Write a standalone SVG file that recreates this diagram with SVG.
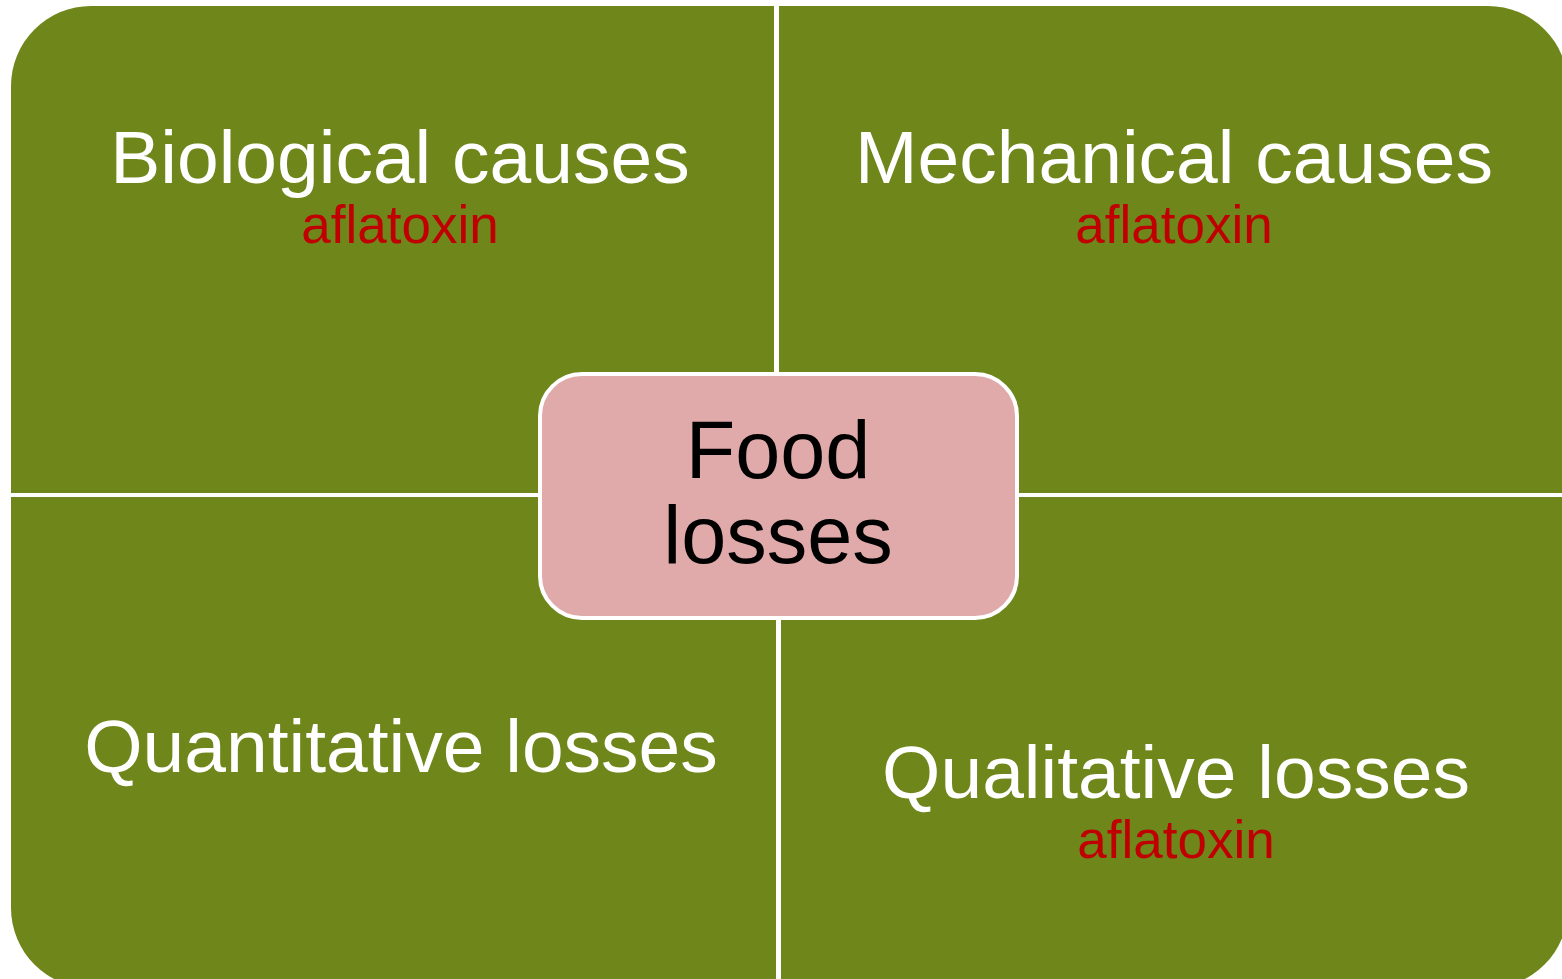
<svg xmlns="http://www.w3.org/2000/svg" width="1562" height="979" viewBox="0 0 1562 979">
<style>
.quad{fill:#6F861A;}
.t{font-family:"Liberation Sans",Arial,sans-serif;text-anchor:middle;}
.title{font-size:75px;fill:#FFFFFF;}
.sub{font-size:53px;fill:#C00000;}
.center{font-size:81px;fill:#000000;}
.hub{fill:#E0A9AA;stroke:#FFFFFF;stroke-width:4;}
</style>
<rect width="1562" height="979" fill="#FFFFFF"/>
<g id="biological-causes">
<path class="quad" d="M11,493 L11,86 A80,80 0 0 1 91,6 L774,6 L774,493 Z"/>
<text class="t title" x="400" y="183">Biological causes</text>
<text class="t sub" x="400" y="243">aflatoxin</text>
</g>
<g id="mechanical-causes">
<path class="quad" d="M779,6 L1488,6 A80,80 0 0 1 1568,86 L1568,493 L779,493 Z"/>
<text class="t title" x="1174" y="183">Mechanical causes</text>
<text class="t sub" x="1174" y="243">aflatoxin</text>
</g>
<g id="quantitative-losses">
<path class="quad" d="M11,497 L776,497 L776,988 L91,988 A80,80 0 0 1 11,908 Z"/>
<text class="t title" x="401" y="772">Quantitative losses</text>
</g>
<g id="qualitative-losses">
<path class="quad" d="M781,497 L1568,497 L1568,908 A80,80 0 0 1 1488,988 L781,988 Z"/>
<text class="t title" x="1176" y="798">Qualitative losses</text>
<text class="t sub" x="1176" y="858">aflatoxin</text>
</g>
<g id="connectors"></g>
<g id="food-losses">
<rect class="hub" x="540" y="374" width="477" height="244" rx="42" ry="42"/>
<text class="t center" x="778" y="478">Food</text>
<text class="t center" x="778" y="563">losses</text>
</g>
</svg>
